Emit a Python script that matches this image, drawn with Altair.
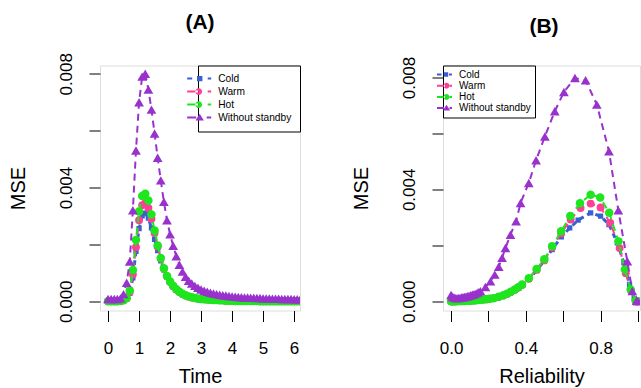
import altair as alt
import pandas as pd

FONT = "Liberation Sans"
SERIES = ["Cold", "Warm", "Hot", "Without standby"]
COLORS = ["#3A5FD0", "#FF3E96", "#1EE61E", "#9932CC"]
SHAPES = ["square", "circle", "circle", "triangle-up"]
SIZES = [28, 62, 72, 95]

# ---------------- Panel (A): MSE vs Time ----------------
time = [0.0, 0.1, 0.2, 0.3, 0.4, 0.5, 0.6, 0.7, 0.8, 0.9,
        1.0, 1.1, 1.2, 1.3, 1.4, 1.5, 1.6, 1.7, 1.8, 1.9,
        2.0, 2.1, 2.2, 2.3, 2.4, 2.5, 2.6, 2.7, 2.8, 2.9,
        3.0, 3.1, 3.2, 3.3, 3.4, 3.5, 3.6, 3.7, 3.8, 3.9,
        4.0, 4.1, 4.2, 4.3, 4.4, 4.5, 4.6, 4.7, 4.8, 4.9,
        5.0, 5.1, 5.2, 5.3, 5.4, 5.5, 5.6, 5.7, 5.8, 5.9,
        6.0, 6.1, 6.2]

a_cold = [0, 0, 0, 0, 0.00001, 0.00002, 0.00008, 0.00028, 0.00082, 0.00175,
          0.00255, 0.00300, 0.00310, 0.00292, 0.00258, 0.00218, 0.00178, 0.00142, 0.00110, 0.00085,
          0.00066, 0.00051, 0.00040, 0.00031, 0.00024, 0.00019, 0.00015, 0.00012, 0.00010, 0.00008,
          0.00007, 0.00006, 0.00005, 0.00004, 0.00003, 0.00003, 0.00002, 0.00002, 0.00002, 0.00001,
          0.00001, 0.00001, 0.00001, 0.00001, 0.00001, 0.00001, 0.00001, 0, 0, 0,
          0, 0, 0, 0, 0, 0, 0, 0, 0, 0,
          0, 0, 0]
a_warm = [0, 0, 0, 0, 0.00001, 0.00003, 0.00010, 0.00032, 0.00094, 0.00190,
          0.00285, 0.00338, 0.00345, 0.00328, 0.00290, 0.00240, 0.00192, 0.00150, 0.00114, 0.00088,
          0.00068, 0.00053, 0.00041, 0.00032, 0.00025, 0.00020, 0.00016, 0.00013, 0.00011, 0.00009,
          0.00008, 0.00007, 0.00006, 0.00005, 0.00004, 0.00004, 0.00003, 0.00003, 0.00002, 0.00002,
          0.00002, 0.00001, 0.00001, 0.00001, 0.00001, 0.00001, 0.00001, 0.00001, 0.00001, 0,
          0, 0, 0, 0, 0, 0, 0, 0, 0, 0,
          0, 0, 0]
a_hot = [0, 0, 0, 0, 0.00001, 0.00003, 0.00011, 0.00038, 0.00110, 0.00215,
         0.00316, 0.00370, 0.00378, 0.00354, 0.00305, 0.00249, 0.00196, 0.00152, 0.00116, 0.00089,
         0.00069, 0.00054, 0.00042, 0.00033, 0.00026, 0.00021, 0.00017, 0.00014, 0.00011, 0.00009,
         0.00008, 0.00007, 0.00006, 0.00005, 0.00004, 0.00004, 0.00003, 0.00003, 0.00002, 0.00002,
         0.00002, 0.00001, 0.00001, 0.00001, 0.00001, 0.00001, 0.00001, 0.00001, 0.00001, 0,
         0, 0, 0, 0, 0, 0, 0, 0, 0, 0,
         0, 0, 0]
a_without = [0.00008, 0.00008, 0.00008, 0.00008, 0.00010, 0.00025, 0.00065, 0.00140, 0.00320, 0.00530,
             0.00700, 0.00790, 0.00800, 0.00745, 0.00674, 0.00590, 0.00505, 0.00425, 0.00350, 0.00285,
             0.00235, 0.00195, 0.00158, 0.00128, 0.00104, 0.00086, 0.00072, 0.00062, 0.00054, 0.00047,
             0.00041, 0.00037, 0.00033, 0.00030, 0.00027, 0.00025, 0.00023, 0.00021, 0.00020, 0.00018,
             0.00017, 0.00016, 0.00015, 0.00014, 0.00013, 0.00013, 0.00012, 0.00012, 0.00011, 0.00011,
             0.00010, 0.00010, 0.00010, 0.00009, 0.00009, 0.00009, 0.00008, 0.00008, 0.00008, 0.00008,
             0.00007, 0.00007, 0.00007]

# ---------------- Panel (B): MSE vs Reliability ----------------
b_cold_r = [0.000, 0.006, 0.012, 0.019, 0.026, 0.034, 0.042, 0.051, 0.060, 0.070,
            0.080, 0.091, 0.102, 0.114, 0.127, 0.141, 0.156, 0.172, 0.189, 0.207,
            0.226, 0.250, 0.275, 0.300, 0.322, 0.343, 0.363, 0.383, 0.418, 0.459,
            0.499, 0.541, 0.590, 0.635, 0.680, 0.747, 0.800, 0.845, 0.890, 0.925,
            0.955, 0.980, 0.998]
b_cold = [0, 0, 0, 0, 0, 0.00001, 0.00001, 0.00001, 0.00001, 0.00001,
          0.00002, 0.00002, 0.00002, 0.00003, 0.00003, 0.00004, 0.00005, 0.00006, 0.00007, 0.00009,
          0.00011, 0.00015, 0.00020, 0.00026, 0.00033, 0.00040, 0.00048, 0.00057, 0.00078, 0.00111,
          0.00145, 0.00185, 0.00230, 0.00262, 0.00290, 0.00316, 0.00304, 0.00274, 0.00209, 0.00137,
          0.00060, 0.00010, 0]
b_warm_r = [0.000, 0.006, 0.012, 0.019, 0.026, 0.034, 0.042, 0.051, 0.060, 0.070,
            0.080, 0.091, 0.102, 0.114, 0.127, 0.141, 0.156, 0.172, 0.189, 0.207,
            0.228, 0.255, 0.280, 0.300, 0.320, 0.341, 0.360, 0.380, 0.416, 0.458,
            0.499, 0.541, 0.589, 0.640, 0.693, 0.747, 0.800, 0.852, 0.902, 0.935,
            0.963, 0.988, 0.998]
b_warm = [0, 0, 0, 0, 0, 0.00001, 0.00001, 0.00001, 0.00001, 0.00001,
          0.00002, 0.00002, 0.00002, 0.00003, 0.00003, 0.00004, 0.00005, 0.00006, 0.00007, 0.00009,
          0.00011, 0.00015, 0.00020, 0.00026, 0.00033, 0.00041, 0.00049, 0.00058, 0.00080, 0.00112,
          0.00146, 0.00192, 0.00242, 0.00292, 0.00333, 0.00349, 0.00335, 0.00280, 0.00190, 0.00100,
          0.00038, 0.00002, 0]
b_hot_r = [0.000, 0.006, 0.012, 0.019, 0.026, 0.034, 0.042, 0.051, 0.060, 0.070,
           0.080, 0.091, 0.102, 0.114, 0.127, 0.141, 0.156, 0.172, 0.189, 0.207,
           0.228, 0.255, 0.280, 0.300, 0.320, 0.341, 0.360, 0.380, 0.416, 0.458,
           0.499, 0.541, 0.589, 0.638, 0.690, 0.747, 0.798, 0.846, 0.896, 0.930,
           0.961, 0.988, 0.998]
b_hot = [0, 0, 0, 0, 0, 0.00001, 0.00001, 0.00001, 0.00001, 0.00001,
         0.00002, 0.00002, 0.00002, 0.00003, 0.00003, 0.00004, 0.00005, 0.00006, 0.00007, 0.00009,
         0.00011, 0.00016, 0.00021, 0.00027, 0.00034, 0.00042, 0.00050, 0.00060, 0.00082, 0.00115,
         0.00150, 0.00197, 0.00250, 0.00305, 0.00350, 0.00381, 0.00371, 0.00316, 0.00214, 0.00113,
         0.00042, 0.00002, 0]
b_without_r = [0.000, 0.008, 0.016, 0.024, 0.032, 0.040, 0.048, 0.056, 0.064, 0.072,
               0.080, 0.088, 0.096, 0.105, 0.114, 0.123, 0.134, 0.145, 0.157, 0.184,
               0.211, 0.234, 0.255, 0.273, 0.291, 0.318, 0.348, 0.372, 0.416, 0.455,
               0.502, 0.555, 0.604, 0.663, 0.720, 0.780, 0.845, 0.895, 0.943, 0.970,
               0.993, 1.000]
b_without = [0.00022, 0.00016, 0.00013, 0.00011, 0.00011, 0.00011, 0.00012, 0.00013, 0.00014, 0.00015,
             0.00016, 0.00018, 0.00019, 0.00021, 0.00023, 0.00025, 0.00028, 0.00032, 0.00036, 0.00051,
             0.00071, 0.00095, 0.00123, 0.00155, 0.00190, 0.00238, 0.00286, 0.00351, 0.00423, 0.00504,
             0.00589, 0.00679, 0.00748, 0.00798, 0.00790, 0.00703, 0.00536, 0.00325, 0.00143, 0.00036,
             0.00002, 0.00000]

y_ticks = [0.0, 0.002, 0.004, 0.006, 0.008]
y_labels = ["0.000", "0.004", "0.008"]
a_x_ticks = [0, 1, 2, 3, 4, 5, 6]
b_x_ticks = [0.0, 0.2, 0.4, 0.6, 0.8, 1.0]
b_x_labels = ["0.0", "0.4", "0.8"]

NBSP = "\u00a0"


def long_df(xs_list, ys_list):
    rows = []
    for s, xs, ys in zip(SERIES, xs_list, ys_list):
        for x, y in zip(xs, ys):
            rows.append({"series": s, "x": x, "mse": y})
    return pd.DataFrame(rows)


df_a = long_df([time] * 4, [a_cold, a_warm, a_hot, a_without])
df_b = long_df([b_cold_r, b_warm_r, b_hot_r, b_without_r], [b_cold, b_warm, b_hot, b_without])


def rect(x0, x1, h):
    return f"M{x0:.2f},{-h:.2f}H{x1:.2f}V{h:.2f}H{x0:.2f}Z"


def circ(cx, r):
    return (f"M{cx - r:.2f},0A{r:.2f},{r:.2f} 0 1 0 {cx + r:.2f},0"
            f"A{r:.2f},{r:.2f} 0 1 0 {cx - r:.2f},0Z")


def tri(cx, hw, hh):
    return f"M{cx:.2f},{-hh:.2f}L{cx + hw:.2f},{hh * 0.75:.2f}L{cx - hw:.2f},{hh * 0.75:.2f}Z"


def legend_paths(shift, lw, cfg):
    """Legend glyphs (dashed line + marker), in pixels, shifted left of the nominal symbol."""
    out = []
    for kind, segs, mk in cfg:
        parts = [rect(a + shift, b + shift, lw) for a, b in segs]
        if kind == "square":
            parts.append(rect(mk[0] - mk[1] + shift, mk[0] + mk[1] + shift, mk[1]))
        elif kind == "circle":
            parts.append(circ(mk[0] + shift, mk[1]))
        else:
            parts.append(tri(mk[0] + shift, mk[1], mk[1] * 0.9))
        out.append(" ".join(parts))
    return out


cfg_a = [
    ("square", [(0, 5), (20.5, 24)], (12.5, 2.7)),
    ("circle", [(0, 11), (20.5, 24)], (11.5, 3.4)),
    ("circle", [(0, 11), (20.5, 24)], (11.5, 3.4)),
    ("tri", [(0, 9), (19.5, 24)], (12.5, 4.2)),
]
cfg_b = [
    ("square", [(0, 4.5), (12, 15)], (9, 2.2)),
    ("circle", [(0, 8), (12.5, 15)], (9.5, 2.9)),
    ("circle", [(0, 8), (12.5, 15)], (9.5, 2.9)),
    ("tri", [(0, 7), (12.5, 15)], (9.5, 3.6)),
]


def panel(df, xtitle, xdomain, xticks, xlabels, xfmt, ydomain, width, title, title_dx,
          legend_orient, legend_pad, legend_font, legend_row, legend_cfg, legend_total, legend_gap,
          legend_tail):
    label_expr = ("indexof(" + str(xlabels) + ", datum.label) >= 0 ? datum.label : ''") if xlabels else "datum.label"
    x_axis = alt.Axis(values=xticks, format=xfmt, labelExpr=label_expr, tickSize=11, tickColor="black",
                      labelPadding=19, titlePadding=10, labelFontSize=17, titleFontSize=20,
                      labelFont=FONT, titleFont=FONT, labelColor="black", titleColor="black",
                      titleFontWeight="normal", domain=False, grid=False, labelFlush=False,
                      labelOverlap=False, labelAngle=0, labelBaseline="top", labelAlign="center")
    y_axis = alt.Axis(values=y_ticks, format=".3f",
                      labelExpr="indexof(" + str(y_labels) + ", datum.label) >= 0 ? datum.label : ''",
                      tickSize=11, tickColor="black", labelAngle=270, labelAlign="center",
                      labelBaseline="middle", labelPadding=23, titlePadding=29,
                      labelFontSize=17, titleFontSize=20, labelFont=FONT, titleFont=FONT,
                      labelColor="black", titleColor="black", titleFontWeight="normal",
                      domain=False, grid=False, labelFlush=False, labelOverlap=False)
    xs = alt.X("x:Q", title=xtitle, scale=alt.Scale(domain=xdomain, nice=False, zero=False), axis=x_axis)
    ys = alt.Y("mse:Q", title="MSE", scale=alt.Scale(domain=ydomain, nice=False, zero=False), axis=y_axis)
    base = alt.Chart(df)
    layers = []
    for s, col, shp, sz in zip(SERIES, COLORS, SHAPES, SIZES):
        sub = base.transform_filter(alt.datum.series == s)
        sw = 3 if s == "Cold" else 2
        dash = [5, 4] if s == "Cold" else [7, 5]
        layers.append(sub.mark_line(color=col, strokeWidth=sw, strokeDash=dash, clip=True)
                      .encode(x=xs, y=ys))
        layers.append(sub.mark_point(filled=True, shape=shp, size=sz, color=col, opacity=1,
                                     strokeWidth=0, clip=True).encode(x=xs, y=ys))
    paths = legend_paths(0.25 - legend_total - 5.25 + legend_font / 2, 1.0, legend_cfg)
    leg = alt.Legend(title=None, orient=legend_orient, offset=0, padding=legend_pad,
                     strokeColor="black", fillColor="white", cornerRadius=0,
                     labelFont=FONT, labelFontSize=legend_font, labelColor="black",
                     symbolSize=4, symbolStrokeWidth=0, symbolOpacity=1,
                     rowPadding=legend_row, labelOffset=legend_gap,
                     labelExpr="datum.label + '" + legend_tail + "'")
    legend_layer = base.transform_filter(alt.datum.mse < -1).mark_point(filled=True).encode(
        x=xs, y=ys,
        color=alt.Color("series:N", scale=alt.Scale(domain=SERIES, range=COLORS), legend=leg),
        shape=alt.Shape("series:N", scale=alt.Scale(domain=SERIES, range=paths), legend=leg),
    )
    layers.append(legend_layer)
    return alt.layer(*layers).properties(
        width=width, height=245,
        title=alt.TitleParams(title, fontSize=21, fontWeight="bold", font=FONT, color="black",
                              baseline="alphabetic", offset=2.5, dx=title_dx, anchor="middle"),
    )


pa = panel(df_a, "Time", [-0.26, 6.19], a_x_ticks, None, "d", [-0.000327, 0.008292], 200, "(A)", 0,
           "top-right", 8, 10.2, 2.0, cfg_a, 24, 2, NBSP * 3)
pb = panel(df_b, "Reliability", [-0.043, 1.011], b_x_ticks, b_x_labels, ".1f", [-0.000332, 0.008429], 197,
           "(B)", 2.5, "top-left", 4, 10, 1.2, cfg_b, 15, 2, "")

chart = alt.hconcat(pa, pb, spacing=49).resolve_scale(
    color="independent", shape="independent", x="independent", y="independent"
).resolve_legend(color="independent", shape="independent").properties(
    padding={"left": 7, "top": 11.5, "right": 0, "bottom": 0}
).configure_view(stroke="black", strokeWidth=1).configure(background="white")

chart.save("out.html", embed_options={"renderer": "svg", "actions": False})
